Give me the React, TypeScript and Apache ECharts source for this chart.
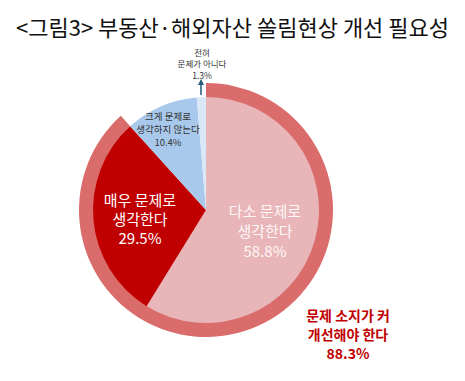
import React, { useEffect, useRef } from "react";
import * as echarts from "echarts";

const title = "<그림3> 부동산·해외자산 쏠림현상 개선 필요성";
const categories = ["다소 문제로 생각한다", "매우 문제로 생각한다", "크게 문제로 생각하지 않는다", "전혀 문제가 아니다"];
const values = [58.8, 29.5, 10.4, 1.3];
const labelLines = [
  ["다소 문제로", "생각한다"],
  ["매우 문제로", "생각한다"],
  ["크게 문제로", "생각하지 않는다"],
  ["전혀", "문제가 아니다"],
];
const ringName = "문제 소지가 커 개선해야 한다";
const ringLines = ["문제 소지가 커", "개선해야 한다"];
const ringValue = values[0] + values[1];

const sliceColors = ["#e8b5b8", "#c00000", "#a9c9ec", "#d9e8f7"];
const FONT = "'Noto Sans CJK KR', 'Noto Sans', sans-serif";

export default function App() {
  const ref = useRef<HTMLDivElement>(null);
  useEffect(() => {
    if (!ref.current) return;
    const chart = echarts.init(ref.current, null, { renderer: "svg" });
    const cx = 206;
    const cy = 210;
    const pct = (v: number) => v.toFixed(1) + "%";
    const txt = (x: number, y: number, text: string, size: number, color: string, lh: number, weight: any = "normal") => ({
      type: "text",
      x,
      y,
      style: {
        text,
        fontSize: size,
        fontFamily: FONT,
        fontWeight: weight,
        fill: color,
        align: "center",
        verticalAlign: "middle",
        lineHeight: lh,
      },
      z: 100,
    });
    chart.setOption({
      animation: false,
      backgroundColor: "#ffffff",
      title: {
        text: title,
        left: "center",
        top: 10,
        textStyle: { fontFamily: FONT, fontSize: 22, fontWeight: "normal", color: "#111111" },
      },
      series: [
        {
          type: "pie",
          name: "ring",
          center: [cx, cy],
          radius: [112, 127],
          startAngle: 90,
          clockwise: true,
          silent: true,
          label: { show: false },
          labelLine: { show: false },
          z: 1,
          data: [
            { name: ringName, value: ringValue, itemStyle: { color: "#da6c6c" } },
            { name: "rest", value: 100 - ringValue, itemStyle: { color: "rgba(0,0,0,0)" } },
          ],
        },
        {
          type: "pie",
          name: "main",
          center: [cx, cy],
          radius: [0, 113],
          startAngle: 90,
          clockwise: true,
          silent: true,
          label: { show: false },
          labelLine: { show: false },
          z: 2,
          data: categories.map((c, i) => ({ name: c, value: values[i], itemStyle: { color: sliceColors[i] } })),
        },
      ],
      graphic: [
        txt(265, 230, [...labelLines[0], pct(values[0])].join("\n"), 15, "#fff8f8", 20),
        txt(140, 218, [...labelLines[1], pct(values[1])].join("\n"), 15, "#ffffff", 19),
        txt(168, 129, [...labelLines[2], pct(values[2])].join("\n"), 9.5, "#333333", 13),
        txt(202, 63, [...labelLines[3], pct(values[3])].join("\n"), 8.5, "#333333", 11.5),
        txt(348, 334, [...ringLines, pct(ringValue)].join("\n"), 14, "#c00000", 19, "bold"),
        {
          type: "line",
          shape: { x1: 201, y1: 95, x2: 201, y2: 84 },
          style: { stroke: "#1f5a78", lineWidth: 1.5 },
          z: 100,
        },
        {
          type: "polygon",
          shape: { points: [[201, 79], [198, 85], [204, 85]] },
          style: { fill: "#1f5a78" },
          z: 100,
        },
      ],
    });
    return () => chart.dispose();
  }, []);
  return <div ref={ref} style={{ position: "fixed", left: 0, top: 0, width: 465, height: 381 }} />;
}
